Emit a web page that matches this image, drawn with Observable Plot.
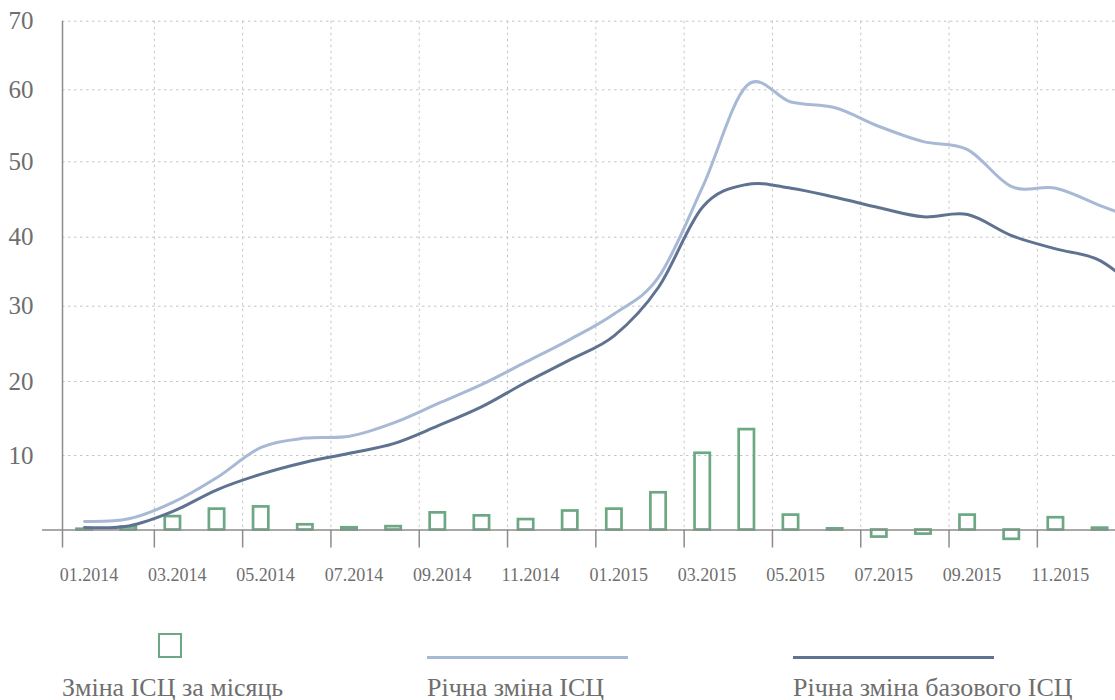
<!DOCTYPE html>
<html>
<head>
<meta charset="utf-8">
<script src="https://cdn.jsdelivr.net/npm/d3@7"></script>
<script src="https://cdn.jsdelivr.net/npm/@observablehq/plot@0.6"></script>
<style>
  html, body { margin: 0; padding: 0; background: #fff; }
  #wrap { position: relative; width: 1115px; height: 700px; font-family: "Liberation Serif", "DejaVu Serif", serif; }
  .lg-text { position: absolute; top: 673px; font-size: 26px; color: #6e6e6e; white-space: nowrap; line-height: 30px; }
  .lg-line { position: absolute; top: 655.5px; width: 201px; height: 3px; }
  .lg-box { position: absolute; left: 158px; top: 633px; width: 20px; height: 21px; border: 2.7px solid #6ba883; }
</style>
</head>
<body>
<div id="wrap">
  <div id="chart"></div>
  <div class="lg-box"></div>
  <div class="lg-text" style="left:62px">Зміна ІСЦ за місяць</div>
  <div class="lg-line" style="left:427px; background:#a8b9d6"></div>
  <div class="lg-text" style="left:427px">Річна зміна ІСЦ</div>
  <div class="lg-line" style="left:793px; background:#5f7391"></div>
  <div class="lg-text" style="left:793px">Річна зміна базового ІСЦ</div>
</div>
<script>
// ---- data ----
const monthLabels = [
  "01.2014","02.2014","03.2014","04.2014","05.2014","06.2014",
  "07.2014","08.2014","09.2014","10.2014","11.2014","12.2014",
  "01.2015","02.2015","03.2015","04.2015","05.2015","06.2015",
  "07.2015","08.2015","09.2015","10.2015","11.2015","12.2015",
  "01.2016"
];
// monthly CPI change, %
const monthlyCPI = [0.1, 0.4, 1.8, 2.8, 3.1, 0.7, 0.3, 0.45, 2.3, 1.9, 1.4, 2.55,
                    2.8, 5.0, 10.3, 13.5, 2.0, 0.15, -0.95, -0.55, 2.0, -1.25, 1.65, 0.25];
// annual CPI change, %
const annualCPI = [1.15, 1.5, 3.7, 7.05, 11.1, 12.35, 12.6, 14.4, 17.0, 19.6, 22.6, 25.6,
                   29.0, 34.2, 46.7, 60.6, 58.3, 57.5, 54.9, 52.8, 51.7, 46.7, 46.5, 44.2, 42.0];
// annual core CPI change, %
const annualCoreCPI = [0.35, 0.55, 2.5, 5.4, 7.5, 9.1, 10.3, 11.6, 14.0, 16.6, 19.9, 22.9,
                       26.1, 32.75, 44.0, 47.0, 46.5, 45.3, 43.9, 42.7, 43.0, 40.2, 38.3, 36.6, 31.5];
const tickLabels = ["01.2014","03.2014","05.2014","07.2014","09.2014","11.2014",
                    "01.2015","03.2015","05.2015","07.2015","09.2015","11.2015"];
const yTicks = [10, 20, 30, 40, 50, 60, 70];

// ---- derived tables ----
const rows = monthLabels.map((m, i) => ({i, m, cpi: annualCPI[i], core: annualCoreCPI[i]}));
const bars = monthlyCPI.map((v, i) => ({i, m: monthLabels[i], v}));
const ticks = tickLabels.map(l => ({l, i: monthLabels.indexOf(l)}));
const innerTicks = ticks.filter(t => t.i > 0);

const axisColor = "#8c8c8c";
const gridColor = "#c6c6c6";
const textColor = "#6e6e6e";

const chart = Plot.plot({
  width: 1115,
  height: 600,
  marginLeft: 62,
  marginRight: 0,
  marginTop: 20,
  marginBottom: 70,
  style: {fontFamily: "'Liberation Serif', serif", background: "#fff", overflow: "visible"},
  x: {type: "linear", domain: [-0.5, 23.35], axis: null},
  y: {type: "linear",
      domain: [0, 10, 20, 30, 40, 50, 60, 70],
      range: [529.5, 455, 381, 305.7, 236.7, 161.3, 89.3, 20.7],
      axis: null},
  marks: [
    Plot.ruleY(yTicks, {stroke: gridColor, strokeWidth: 1, strokeDasharray: "2.5,3.5"}),
    Plot.ruleX(innerTicks, {x: d => d.i - 0.42, y1: () => 70, y2: () => 0,
                            stroke: gridColor, strokeWidth: 1, strokeDasharray: "2.5,3.5"}),
    Plot.rect(bars, {x1: d => d.i - 0.173, x2: d => d.i + 0.173, y1: () => 0, y2: "v",
                     fill: "none", stroke: "#6ba883", strokeWidth: 2.7}),
    Plot.ruleY([0], {stroke: axisColor, strokeWidth: 1.5, insetLeft: -20}),
    Plot.ruleX([-0.5], {y1: () => 70, y2: () => 0, insetBottom: -18, stroke: axisColor, strokeWidth: 1.5}),
    Plot.ruleX(innerTicks, {x: d => d.i - 0.42, y1: () => 0, y2: () => 0, insetBottom: -18,
                            stroke: axisColor, strokeWidth: 1.5}),
    Plot.line(rows, {x: "i", y: "cpi", curve: "cardinal", stroke: "#a8b9d6", strokeWidth: 3, clip: true}),
    Plot.line(rows, {x: "i", y: "core", curve: "cardinal", stroke: "#5f7391", strokeWidth: 3, clip: true}),
    Plot.text(ticks, {x: d => d.i + 0.1, y: () => 0, dy: 45, text: "l", fontSize: 18, fill: textColor}),
    Plot.text(yTicks, {x: () => -0.5, y: d => d, dx: -29, text: d => String(d), textAnchor: "end",
                       fontSize: 25, fill: textColor})
  ]
});
document.getElementById("chart").appendChild(chart);
</script>
</body>
</html>
